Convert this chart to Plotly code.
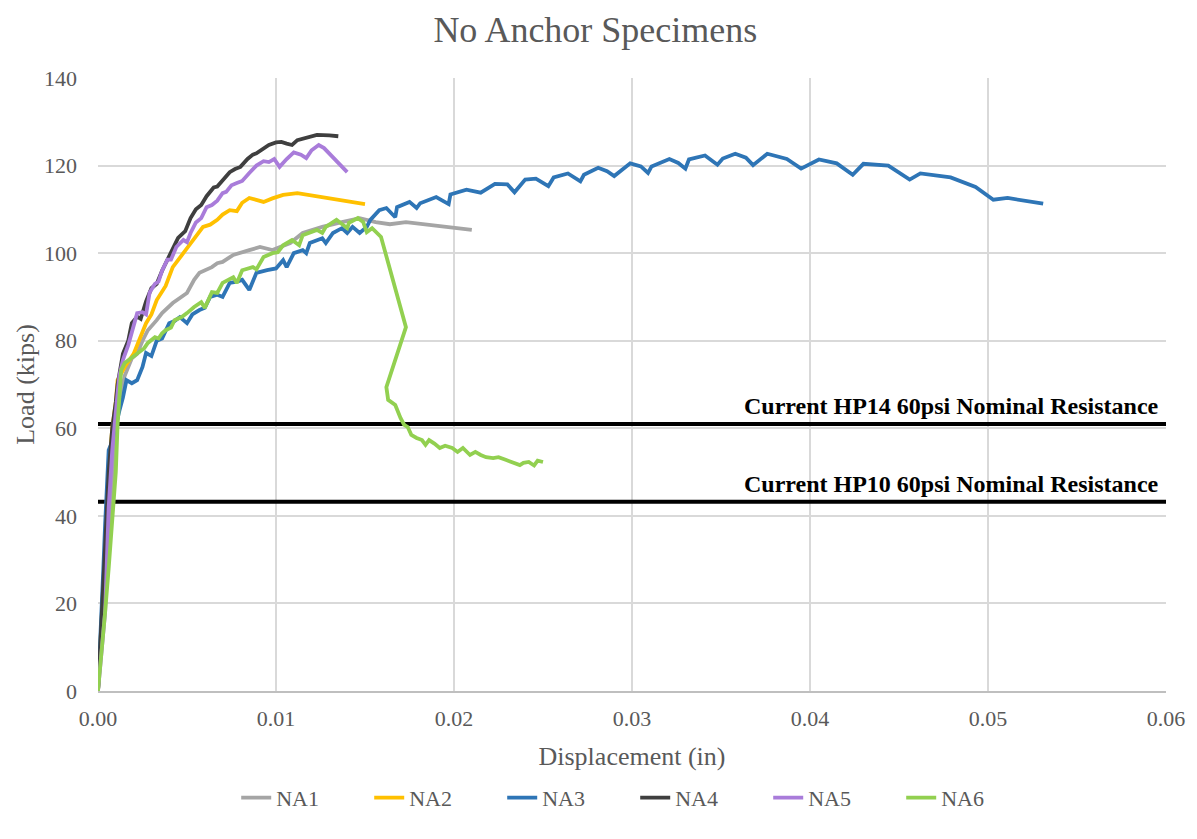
import plotly.graph_objects as go

# ---------------- data ----------------
na1_x = [0, 0.0002, 0.0004, 0.0006, 0.0008, 0.0010, 0.0012, 0.0015, 0.0019, 0.0022, 0.0025, 0.0028,
         0.0033, 0.0036, 0.0042, 0.0047, 0.0050, 0.0054, 0.0057, 0.0064, 0.0067, 0.0070, 0.0076, 0.0085,
         0.0091, 0.0098, 0.0108, 0.0115, 0.0126, 0.0137, 0.0147, 0.0156, 0.0164, 0.0173, 0.0190, 0.0210]
na1_y = [0, 12, 25, 37, 50, 60, 66, 72, 76, 77, 80, 82.4, 84.7, 86.3, 88.6, 90, 90.9, 93.9, 95.5, 96.8,
         97.7, 98, 99.6, 100.7, 101.4, 100.7, 102.3, 104.6, 106, 107.1, 108, 107.1, 106.6, 107.1, 106.3, 105.3]

na2_x = [0, 0.0002, 0.0004, 0.0006, 0.0008, 0.0010, 0.0011, 0.0015, 0.0020, 0.0023, 0.0027, 0.0030,
         0.0033, 0.0038, 0.0042, 0.0047, 0.0052, 0.0056, 0.0059, 0.0063, 0.0067, 0.0070, 0.0074, 0.0078,
         0.0081, 0.0085, 0.0089, 0.0093, 0.0098, 0.0104, 0.0112, 0.0130, 0.0150]
na2_y = [0, 15, 32, 50, 60, 66, 71, 74, 77, 80, 84, 86, 89.3, 92.5, 96.8, 99.5, 102.3, 104.5, 106, 106.5,
         107.6, 108.8, 109.8, 109.6, 111.5, 112.6, 112.2, 111.7, 112.5, 113.3, 113.7, 112.6, 111.2]

na3_x = [0, 0.0001, 0.0002, 0.0003, 0.0004, 0.0005, 0.0006, 0.0008, 0.0010, 0.0012, 0.0014, 0.0016,
         0.0019, 0.0022, 0.0025, 0.0027, 0.0030, 0.0033, 0.0036, 0.0040, 0.0043, 0.0046, 0.0050, 0.0053,
         0.0057, 0.0060, 0.0063, 0.0067, 0.0070, 0.0074, 0.0078, 0.0081, 0.0085, 0.0089, 0.0095, 0.0100,
         0.0104, 0.0106, 0.0110, 0.0115, 0.0117, 0.0119, 0.0126, 0.0128, 0.0132, 0.0137, 0.0140, 0.0143,
         0.0147, 0.0151, 0.0153, 0.0158, 0.0162, 0.0167, 0.0168, 0.0175, 0.0179, 0.0181, 0.0190, 0.0197,
         0.0198, 0.0207, 0.0215, 0.0223, 0.0230, 0.0234, 0.0240, 0.0246, 0.0253, 0.0256, 0.0264, 0.0271,
         0.0273, 0.0281, 0.0286, 0.0290, 0.0299, 0.0305, 0.0309, 0.0311, 0.0321, 0.0326, 0.0330, 0.0332,
         0.0341, 0.0348, 0.0351, 0.0358, 0.0364, 0.0368, 0.0376, 0.0387, 0.0395, 0.0405, 0.0415, 0.0424,
         0.0430, 0.0444, 0.0456, 0.0462, 0.0479, 0.0493, 0.0503, 0.0511, 0.0531]
na3_y = [0, 8, 18, 28, 38, 47, 55, 57, 61, 64, 67, 71, 70.3, 71, 74, 77.2, 76.5, 80, 80.5, 84, 84.5, 85.4,
         84, 86, 87, 87.5, 90, 90.5, 90, 93.2, 93.5, 93.9, 91.6, 95.5, 96.1, 96.5, 98.4, 96.8, 100, 100.7,
         100, 102.3, 103.4, 102.3, 104.6, 105.7, 104.6, 106, 104.6, 106, 107.6, 109.8, 110.3, 108.2, 110.5,
         111.7, 110.3, 111.4, 112.8, 111.2, 113.4, 114.5, 113.8, 115.8, 115.7, 113.9, 116.8, 117.0, 115.3,
         117.3, 118.2, 116.4, 117.9, 119.5, 118.7, 117.6, 120.5, 119.8, 118.3, 119.8, 121.5, 120.6, 119.3,
         121.4, 122.3, 120.2, 121.6, 122.7, 121.8, 120.1, 122.7, 121.5, 119.3, 121.4, 120.5, 117.9, 120.4,
         120.0, 116.8, 118.2, 117.3, 115.1, 112.2, 112.6, 111.3]

na4_x = [0, 0.0002, 0.0004, 0.0006, 0.0008, 0.0010, 0.0011, 0.0014, 0.0017, 0.0019, 0.0022, 0.0024,
         0.0027, 0.0030, 0.0033, 0.0036, 0.0039, 0.0042, 0.0045, 0.0049, 0.0052, 0.0055, 0.0058, 0.0061,
         0.0065, 0.0067, 0.0070, 0.0074, 0.0077, 0.0080, 0.0084, 0.0087, 0.0089, 0.0093, 0.0096, 0.0100,
         0.0103, 0.0106, 0.0109, 0.0112, 0.0117, 0.0123, 0.0130, 0.0135]
na4_y = [0, 15, 33, 50, 60, 66, 70, 77, 80, 84, 85.5, 85, 89, 92, 93, 96, 98.5, 100.7, 103.5, 105, 108,
         110, 111, 113, 115, 115.2, 116.7, 118.5, 119.2, 119.7, 121.5, 122.5, 122.8, 124, 124.7, 125.3,
         125.4, 125, 124.7, 125.8, 126.4, 127, 126.9, 126.7]

na5_x = [0, 0.0001, 0.0002, 0.0003, 0.0004, 0.0005, 0.0006, 0.0008, 0.0009, 0.0011, 0.0012, 0.0014,
         0.0017, 0.0020, 0.0022, 0.0025, 0.0027, 0.0029, 0.0032, 0.0034, 0.0036, 0.0039, 0.0041, 0.0044,
         0.0048, 0.0050, 0.0052, 0.0055, 0.0058, 0.0061, 0.0064, 0.0067, 0.0070, 0.0072, 0.0075, 0.0078,
         0.0081, 0.0085, 0.0089, 0.0093, 0.0096, 0.0099, 0.0102, 0.0106, 0.0110, 0.0114, 0.0117, 0.0120,
         0.0124, 0.0127, 0.0130, 0.0135, 0.0140]
na5_y = [0, 4, 9, 12, 18, 30, 42, 55, 60, 68, 72, 75.6, 79, 83, 86.3, 86.5, 86, 91, 93, 93.5, 96, 98.5,
         98.5, 101.4, 103, 102.5, 104.6, 107, 108, 110.5, 111, 112, 113.7, 114, 115.5, 116, 116.5, 118.3,
         120, 121, 120.8, 121.5, 119.7, 121.5, 123, 122.5, 121.7, 123.5, 124.7, 124, 122.8, 120.5, 118.5]

na6_x = [0, 0.0002, 0.0004, 0.0006, 0.0008, 0.0010, 0.0011, 0.0012, 0.0013, 0.0015, 0.0021, 0.0026,
         0.0028, 0.0032, 0.0034, 0.0036, 0.0038, 0.0041, 0.0043, 0.0047, 0.0050, 0.0054, 0.0058, 0.0060,
         0.0064, 0.0067, 0.0070, 0.0076, 0.0078, 0.0081, 0.0087, 0.0089, 0.0093, 0.0098, 0.0101, 0.0104,
         0.0109, 0.0113, 0.0115, 0.0123, 0.0126, 0.0128, 0.0134, 0.0140, 0.0141, 0.0146, 0.0149, 0.0151,
         0.0154, 0.0159, 0.0173, 0.0162, 0.0163, 0.0167, 0.0170, 0.0172, 0.0174, 0.0176, 0.0179, 0.0182,
         0.0184, 0.0186, 0.0189, 0.0192, 0.0195, 0.0199, 0.0202, 0.0205, 0.0209, 0.0212, 0.0215, 0.0218,
         0.0222, 0.0225, 0.0229, 0.0233, 0.0237, 0.0239, 0.0242, 0.0245, 0.0247, 0.0250]
na6_y = [0, 8, 18, 28, 38, 50, 60.8, 68, 73.3, 74.9, 76.7, 78.3, 79.5, 80.8, 80.5, 81.7, 82.4, 83, 84.7,
         85.4, 86.3, 87.7, 88.8, 87.5, 91.1, 90.9, 93.2, 94.5, 93.2, 96.1, 96.8, 96.3, 99.1, 100, 100.2,
         101.8, 103, 101.8, 104.1, 105.3, 104.6, 106, 107.6, 105.7, 106.9, 108, 107.1, 104.8, 105.7, 103.7,
         83.1, 69.4, 66.5, 65.3, 62.3, 60.8, 60.3, 58.5, 57.8, 57.3, 56.2, 57.3, 56.5, 55.5, 56, 55.5, 54.6,
         55.5, 53.9, 54.6, 53.9, 53.4, 53.2, 53.4, 52.8, 52.3, 51.6, 52.1, 52.3, 51.5, 52.6, 52.3]

nominal_x = [0, 0.06]
hp14_load = 61.0
hp10_load = 43.2
hp14_label = "Current HP14 60psi Nominal Resistance"
hp10_label = "Current HP10 60psi Nominal Resistance"

series = [
    ("NA1", na1_x, na1_y, "#A5A5A5"),
    ("NA2", na2_x, na2_y, "#FFC000"),
    ("NA3", na3_x, na3_y, "#2E75B6"),
    ("NA4", na4_x, na4_y, "#3F3F3F"),
    ("NA5", na5_x, na5_y, "#A97CDA"),
    ("NA6", na6_x, na6_y, "#92D050"),
]

SERIF = "Liberation Serif"
GREY = "#595959"

fig = go.Figure()

for load in (hp14_load, hp10_load):
    fig.add_trace(go.Scatter(x=nominal_x, y=[load, load], mode="lines",
                             line=dict(color="black", width=4), showlegend=False,
                             hoverinfo="skip", cliponaxis=False))

for name, xs, ys, col in series:
    fig.add_trace(go.Scatter(x=xs, y=ys, mode="lines", name=name,
                             line=dict(color=col, width=3.8)))

for load, label in ((hp14_load, hp14_label), (hp10_load, hp10_label)):
    fig.add_annotation(x=0.9955, xref="paper", y=load, yref="y", text=f"<b>{label}</b>",
                       showarrow=False, xanchor="right", yanchor="bottom", yshift=3,
                       font=dict(family=SERIF, size=24, color="black"))

# page body adds an 8px offset, so the figure is 8px smaller and margins shifted
fig.update_layout(
    width=1189, height=831,
    paper_bgcolor="white", plot_bgcolor="white",
    margin=dict(l=90, r=29, t=70, b=148),
    title=dict(text="No Anchor Specimens", x=0.494, xanchor="center", y=0.989, yanchor="top",
               font=dict(family=SERIF, size=36, color=GREY)),
    font=dict(family=SERIF, color=GREY),
    legend=dict(orientation="h", x=0.503, xanchor="center", y=-0.14, yanchor="top",
                font=dict(family=SERIF, size=22, color=GREY),
                entrywidth=88, entrywidthmode="pixels", tracegroupgap=0),
    showlegend=True,
)

fig.update_xaxes(range=[0, 0.06], dtick=0.01, tickformat=".2f", showgrid=True,
                 gridcolor="#D9D9D9", gridwidth=1.5, zeroline=False,
                 showline=True, linecolor="#BFBFBF", linewidth=1.5,
                 tickfont=dict(family=SERIF, size=22, color=GREY), ticks="",
                 ticklabelstandoff=7,
                 title=dict(text="Displacement (in)", font=dict(family=SERIF, size=26, color=GREY),
                            standoff=17))
fig.update_yaxes(range=[0, 140], dtick=20, showgrid=True, gridcolor="#D9D9D9", gridwidth=1.5,
                 zeroline=False, showline=False, ticks="",
                 ticklabelstandoff=20,
                 tickfont=dict(family=SERIF, size=22, color=GREY),
                 title=dict(text="Load (kips)", font=dict(family=SERIF, size=26, color=GREY),
                            standoff=1))

fig.write_html("out.html")
